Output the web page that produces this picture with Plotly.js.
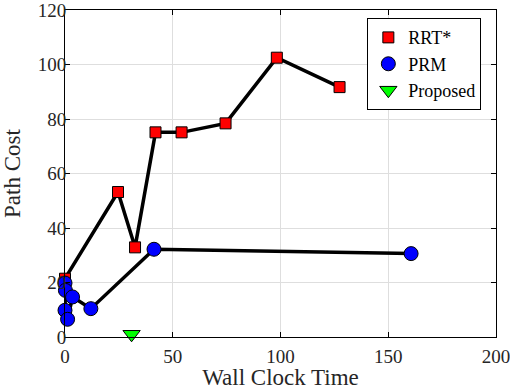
<!DOCTYPE html>
<html>
<head>
<meta charset="utf-8">
<script src="https://cdn.plot.ly/plotly-3.0.1.min.js"></script>
<style>
  html, body { margin: 0; padding: 0; background: #fff; }
  #chart { width: 510px; height: 390px; }
</style>
</head>
<body>
<div id="chart"></div>
<script>
// RRT* results (wall clock time vs path cost)
const rrtTime = [0, 24.6, 32.5, 42.0, 54.1, 74.5, 98.3, 127.4];
const rrtCost = [21.4, 53.2, 32.9, 75.1, 75.1, 78.4, 102.5, 91.7];

// PRM results
const prmTime = [0, 0.2, 0, 1.2, 3.5, 12.0, 41.3, 160.6];
const prmCost = [19.8, 17.1, 9.8, 6.5, 14.7, 10.4, 32.2, 30.6];

// Proposed method
const propTime = [30.9];
const propCost = [1.0];

const xTicks = [0, 50, 100, 150, 200];
const yTicks = [0, 20, 40, 60, 80, 100, 120];

const serif = 'Liberation Serif, Times New Roman, serif';
const textColor = '#262626';

// lines drawn separately so the legend only shows the markers
const traces = [
  {
    x: rrtTime, y: rrtCost, mode: 'lines', showlegend: false,
    line: { color: '#000', width: 3.5 }, cliponaxis: false
  },
  {
    x: rrtTime, y: rrtCost, mode: 'markers', name: 'RRT*',
    marker: { symbol: 'square', size: 11, color: '#ff0000', line: { color: '#000', width: 1 } },
    cliponaxis: false
  },
  {
    x: prmTime, y: prmCost, mode: 'lines', showlegend: false,
    line: { color: '#000', width: 3.5 }, cliponaxis: false
  },
  {
    x: prmTime, y: prmCost, mode: 'markers', name: 'PRM',
    marker: { symbol: 'circle', size: 14, color: '#0000ff', line: { color: '#000', width: 1 } },
    cliponaxis: false
  },
  {
    x: propTime, y: propCost, mode: 'markers', name: 'Proposed',
    marker: { symbol: 'triangle-down', size: 15, color: '#00ff00', line: { color: '#000', width: 1 } },
    cliponaxis: false
  }
];

const axisCommon = {
  showline: true,
  linecolor: '#000',
  linewidth: 1,
  mirror: 'ticks',
  ticks: 'inside',
  ticklen: 5,
  tickcolor: '#000',
  showgrid: true,
  gridcolor: '#dedede',
  gridwidth: 1,
  zeroline: false,
  ticklabeloverflow: 'allow',
  tickfont: { family: serif, size: 19, color: textColor }
};

const layout = {
  width: 510,
  height: 390,
  margin: { l: 65, r: 14, t: 10, b: 53 },
  paper_bgcolor: '#fff',
  plot_bgcolor: '#fff',
  font: { family: serif, color: textColor },
  xaxis: Object.assign({}, axisCommon, {
    range: [0, 200],
    tickvals: xTicks,
    ticktext: xTicks.map(String),
    ticklabelstandoff: 2,
    title: { text: 'Wall Clock Time', font: { family: serif, size: 23, color: textColor }, standoff: 12 }
  }),
  yaxis: Object.assign({}, axisCommon, {
    range: [0, 120],
    tickvals: yTicks,
    ticktext: yTicks.map(String),
    ticklabelstandoff: -6
  }),
  // y title placed as an annotation so it can sit closer to the page edge
  annotations: [{
    text: 'Path Cost',
    xref: 'paper', yref: 'paper',
    x: -0.122, y: 0.5,
    xanchor: 'center', yanchor: 'middle',
    textangle: -90,
    showarrow: false,
    font: { family: serif, size: 23, color: textColor }
  }],
  legend: {
    x: 0.966, xanchor: 'right',
    y: 0.975, yanchor: 'top',
    bgcolor: '#fff',
    bordercolor: '#000',
    borderwidth: 1,
    font: { family: serif, size: 18, color: '#000' },
    tracegroupgap: 0
  },
  showlegend: true
};

Plotly.newPlot('chart', traces, layout, { displayModeBar: false, staticPlot: true });
</script>
</body>
</html>
